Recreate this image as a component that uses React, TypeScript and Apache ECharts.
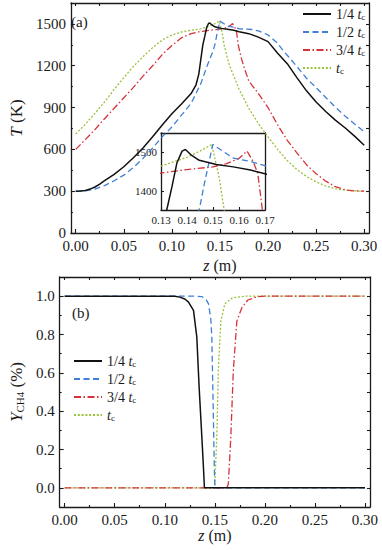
import React, { useEffect, useRef } from 'react';
import * as echarts from 'echarts';

const FONT = '"Liberation Serif", serif';
const INK = '#1a1a1a';

// ---------- Panel (a): temperature T (K) vs z (m) ----------
const Z_T14 = [0, 0.005, 0.01, 0.015, 0.02, 0.025, 0.03, 0.04, 0.05, 0.06, 0.07, 0.08, 0.09, 0.1, 0.11, 0.12, 0.125, 0.128, 0.13, 0.1322, 0.1342, 0.1361, 0.1381, 0.1394, 0.1414, 0.1447, 0.1513, 0.1578, 0.1644, 0.17, 0.18, 0.19, 0.2, 0.21, 0.22, 0.23, 0.24, 0.25, 0.26, 0.27, 0.28, 0.29, 0.3];
const T14 = [300, 301, 305, 315, 330, 350, 375, 420, 475, 540, 610, 690, 775, 855, 925, 1000, 1060, 1140, 1240, 1350, 1410, 1472, 1503, 1507, 1494, 1479, 1468, 1462, 1454, 1444, 1430, 1405, 1373, 1290, 1215, 1115, 1020, 940, 872, 810, 755, 695, 630];

const Z_T12 = [0, 0.01, 0.02, 0.03, 0.04, 0.05, 0.06, 0.07, 0.08, 0.09, 0.1, 0.11, 0.12, 0.13, 0.137, 0.1425, 0.1447, 0.1467, 0.1484, 0.1499, 0.1578, 0.1644, 0.17, 0.183, 0.19, 0.2, 0.21, 0.2165, 0.22, 0.23, 0.24, 0.25, 0.26, 0.27, 0.28, 0.29, 0.3];
const T12 = [300, 302, 315, 340, 375, 415, 470, 535, 610, 690, 760, 845, 930, 1070, 1205, 1300, 1350, 1419, 1472, 1520, 1485, 1476, 1465, 1460, 1450, 1421, 1360, 1301, 1275, 1195, 1110, 1043, 972, 903, 840, 782, 726];

const Z_T34 = [0, 0.01, 0.02, 0.03, 0.04, 0.05, 0.06, 0.07, 0.08, 0.09, 0.1, 0.11, 0.12, 0.13, 0.14, 0.15, 0.155, 0.16, 0.1631, 0.1655, 0.1672, 0.169, 0.172, 0.175, 0.18, 0.19, 0.2, 0.21, 0.22, 0.23, 0.24, 0.25, 0.26, 0.27, 0.28, 0.29, 0.3];
const T34 = [600, 670, 742, 820, 895, 970, 1045, 1125, 1200, 1280, 1345, 1400, 1430, 1446, 1455, 1462, 1470, 1484, 1503, 1475, 1446, 1350, 1260, 1190, 1090, 1000, 900, 775, 665, 575, 490, 425, 372, 332, 310, 302, 300];

const Z_TC = [0, 0.01, 0.02, 0.03, 0.04, 0.05, 0.06, 0.07, 0.08, 0.09, 0.1, 0.11, 0.12, 0.13, 0.14, 0.145, 0.1495, 0.1523, 0.1543, 0.157, 0.16, 0.17, 0.18, 0.19, 0.2, 0.21, 0.22, 0.23, 0.24, 0.25, 0.26, 0.27, 0.28, 0.29, 0.3];
const TC = [710, 780, 858, 940, 1030, 1115, 1195, 1265, 1330, 1385, 1420, 1442, 1455, 1464, 1487, 1503, 1520, 1437, 1350, 1275, 1200, 1030, 895, 785, 690, 600, 520, 455, 405, 367, 337, 318, 307, 302, 300];

// ---------- Panel (b): Y_CH4 (%) vs z (m) ----------
const Z_Y14 = [0, 0.1, 0.11, 0.115, 0.12, 0.1237, 0.1287, 0.132, 0.1343, 0.137, 0.1385, 0.1396, 0.14, 0.3];
const Y14 = [1, 1, 0.999, 0.995, 0.985, 0.969, 0.926, 0.787, 0.527, 0.268, 0.12, 0, 0, 0];

const Z_Y12 = [0, 0.13, 0.137, 0.141, 0.1437, 0.146, 0.147, 0.1483, 0.1495, 0.15, 0.151, 0.3];
const Y12 = [1, 1, 0.998, 0.985, 0.96, 0.88, 0.787, 0.44, 0.1, 0.02, 0, 0];

const Z_Y34 = [0, 0.162, 0.1635, 0.166, 0.1685, 0.172, 0.177, 0.183, 0.193, 0.2, 0.3];
const Y34 = [0, 0, 0.02, 0.268, 0.614, 0.87, 0.94, 0.98, 0.998, 1, 1];

const Z_YC = [0, 0.1495, 0.15, 0.152, 0.1535, 0.156, 0.16, 0.167, 0.18, 0.3];
const YC = [0, 0, 0.02, 0.268, 0.614, 0.87, 0.96, 0.99, 1, 1];

// ---------- ticks ----------
const X_TICKS = [0, 0.05, 0.1, 0.15, 0.2, 0.25, 0.3];
const X_MINOR = [0.025, 0.075, 0.125, 0.175, 0.225, 0.275];
const T_TICKS = [0, 300, 600, 900, 1200, 1500];
const T_MINOR = [150, 450, 750, 1050, 1350];
const INSET_X_TICKS = [0.13, 0.14, 0.15, 0.16, 0.17];
const INSET_T_TICKS = [1400, 1500];
const Y_TICKS = [0, 0.2, 0.4, 0.6, 0.8, 1.0];
const Y_MINOR = [0.1, 0.3, 0.5, 0.7, 0.9];

const NAMES = ['1/4 tc', '1/2 tc', '3/4 tc', 'tc'];
const COLORS = ['#111111', '#3f7fd6', '#d6323a', '#98c23a'];
const DASHES: any[] = ['solid', [6, 3.5], [7, 2.5, 1.5, 2.5], [2, 1.8]];

const zip = (xs: number[], ys: number[]) => xs.map((x, i) => [x, ys[i]]);

const T_DATA = [zip(Z_T14, T14), zip(Z_T12, T12), zip(Z_T34, T34), zip(Z_TC, TC)];
const Y_DATA = [zip(Z_Y14, Y14), zip(Z_Y12, Y12), zip(Z_Y34, Y34), zip(Z_YC, YC)];

function baseAxis(gridIndex: number, min: number, max: number, position: string): any {
  return {
    type: 'value',
    gridIndex,
    min,
    max,
    position,
    splitLine: { show: false },
    axisLine: { show: true, onZero: false, lineStyle: { color: INK, width: 1.3 } },
    axisTick: { show: false },
    axisLabel: { show: false },
  };
}

function withTicks(ax: any, values: number[], length: number): any {
  return {
    ...ax,
    axisTick: {
      show: true,
      inside: true,
      length,
      customValues: values,
      lineStyle: { color: INK, width: 1.1 },
    },
  };
}

function withLabels(ax: any, values: number[], digits: number, size: number, margin: number): any {
  return {
    ...ax,
    axisLabel: {
      show: true,
      customValues: values,
      formatter: (v: number) => (digits < 0 ? String(Math.round(v)) : v.toFixed(digits)),
      fontFamily: FONT,
      fontStyle: 'normal',
      fontSize: size,
      color: INK,
      margin,
    },
  };
}

const nameStyle = (size: number) => ({
  fontFamily: FONT,
  fontSize: size,
  color: INK,
  rich: {
    r: { fontFamily: FONT, fontSize: size, color: INK },
    i: { fontFamily: FONT, fontSize: size, fontStyle: 'italic', color: INK },
  },
});

const subNameStyle = (size: number) => ({
  fontFamily: FONT,
  fontSize: size,
  color: INK,
  rich: {
    r: { fontFamily: FONT, fontSize: size, color: INK },
    i: { fontFamily: FONT, fontSize: size, fontStyle: 'italic', color: INK },
    s: { fontFamily: FONT, fontSize: 11, color: INK, verticalAlign: 'bottom' },
  },
});

const legendFormatter = (name: string) => {
  const pre = name.replace('tc', '');
  return (pre ? '{r|' + pre + '}' : '') + '{i|t}{s|c}';
};

function buildOption(): any {
  const xAxis: any[] = [];
  const yAxis: any[] = [];

  // grid 0 (panel a)
  xAxis.push({
    ...withLabels(withTicks(baseAxis(0, -0.005, 0.305, 'bottom'), X_TICKS, 4), X_TICKS, 2, 15, 5),
    name: '{i|z}{r| (m)}',
    nameLocation: 'middle',
    nameGap: 24,
    nameTextStyle: nameStyle(16),
  }); // 0
  xAxis.push({ ...withTicks(baseAxis(0, -0.005, 0.305, 'bottom'), X_MINOR, 2), axisLine: { show: false, onZero: false } }); // 1
  xAxis.push(withTicks(baseAxis(0, -0.005, 0.305, 'top'), [...X_TICKS, ...X_MINOR], 3)); // 2
  // grid 1 (inset)
  xAxis.push(withLabels(withTicks(baseAxis(1, 0.13, 0.17, 'bottom'), INSET_X_TICKS, 3), INSET_X_TICKS, 2, 11, 4)); // 3
  xAxis.push(baseAxis(1, 0.13, 0.17, 'top')); // 4
  // grid 2 (panel b)
  xAxis.push({
    ...withLabels(withTicks(baseAxis(2, -0.005, 0.305, 'bottom'), X_TICKS, 4), X_TICKS, 2, 15, 5),
    name: '{i|z}{r| (m)}',
    nameLocation: 'middle',
    nameGap: 20,
    nameTextStyle: nameStyle(16),
  }); // 5
  xAxis.push({ ...withTicks(baseAxis(2, -0.005, 0.305, 'bottom'), X_MINOR, 2), axisLine: { show: false, onZero: false } }); // 6
  xAxis.push(withTicks(baseAxis(2, -0.005, 0.305, 'top'), [...X_TICKS, ...X_MINOR], 3)); // 7

  yAxis.push({
    ...withLabels(withTicks(baseAxis(0, 0, 1650, 'left'), T_TICKS, 4), T_TICKS, -1, 15, 5),
    name: '{i|T}{r| (K)}',
    nameLocation: 'middle',
    nameGap: 37,
    nameTextStyle: nameStyle(17),
  }); // 0
  yAxis.push({ ...withTicks(baseAxis(0, 0, 1650, 'left'), T_MINOR, 2), axisLine: { show: false, onZero: false } }); // 1
  yAxis.push(withTicks(baseAxis(0, 0, 1650, 'right'), [...T_TICKS, ...T_MINOR], 3)); // 2
  yAxis.push(withLabels(withTicks(baseAxis(1, 1350, 1550, 'left'), INSET_T_TICKS, 3), INSET_T_TICKS, -1, 11, 4)); // 3
  yAxis.push(baseAxis(1, 1350, 1550, 'right')); // 4
  yAxis.push({
    ...withLabels(withTicks(baseAxis(2, -0.1, 1.1, 'left'), Y_TICKS, 4), Y_TICKS, 1, 15, 5),
    name: '{i|Y}{s|CH4}{r| (%)}',
    nameLocation: 'middle',
    nameGap: 33,
    nameTextStyle: subNameStyle(17),
  }); // 5
  yAxis.push({ ...withTicks(baseAxis(2, -0.1, 1.1, 'left'), Y_MINOR, 2), axisLine: { show: false, onZero: false } }); // 6
  yAxis.push(withTicks(baseAxis(2, -0.1, 1.1, 'right'), [...Y_TICKS, ...Y_MINOR], 3)); // 7

  const series: any[] = [];
  const mk = (i: number, data: number[][], xi: number, yi: number) => ({
    type: 'line',
    name: NAMES[i],
    data,
    xAxisIndex: xi,
    yAxisIndex: yi,
    symbol: 'none',
    showSymbol: false,
    clip: true,
    z: 10 - i,
    lineStyle: { color: COLORS[i], width: i === 0 ? 1.5 : 1.3, type: DASHES[i] },
    itemStyle: { color: COLORS[i] },
  });
  for (let i = 0; i < 4; i++) series.push(mk(i, T_DATA[i], 0, 0));
  for (let i = 0; i < 4; i++) series.push(mk(i, T_DATA[i], 3, 3));
  for (let i = 0; i < 4; i++) series.push(mk(i, Y_DATA[i], 5, 5));

  const legendText = {
    fontFamily: FONT,
    fontSize: 14,
    color: INK,
    rich: {
      r: { fontFamily: FONT, fontSize: 14, color: INK },
      i: { fontFamily: FONT, fontSize: 14, fontStyle: 'italic', color: INK },
      s: { fontFamily: FONT, fontSize: 9, color: INK, verticalAlign: 'bottom' },
    },
  };
  const legendBase = {
    orient: 'vertical',
    data: NAMES,
    itemWidth: 28,
    itemHeight: 14,
    itemGap: 4,
    formatter: legendFormatter,
    textStyle: legendText,
    itemStyle: { color: 'rgba(0,0,0,0)', borderWidth: 0, opacity: 0 },
    selectedMode: false,
    padding: 0,
  };

  return {
    animation: false,
    backgroundColor: '#ffffff',
    textStyle: { fontFamily: FONT },
    grid: [
      { left: 57, top: 3, right: 13, height: 230, containLabel: false },
      { left: 161, top: 133, width: 104, height: 77, containLabel: false, z: 5 },
      { left: 57, top: 277, right: 12, height: 230, containLabel: false },
    ],
    xAxis,
    yAxis,
    series,
    legend: [
      { ...legendBase, left: 302, top: 7 },
      { ...legendBase, left: 73, top: 354 },
    ],
    graphic: [
      { type: 'text', left: 71, top: 14, style: { text: '(a)', font: '15px ' + FONT, fill: INK } },
      { type: 'text', left: 72, top: 305, style: { text: '(b)', font: '15px ' + FONT, fill: INK } },
    ],
  };
}

export default function App() {
  const ref = useRef<HTMLDivElement>(null);
  useEffect(() => {
    if (!ref.current) return;
    const chart = echarts.init(ref.current, undefined, { renderer: 'svg' });
    chart.setOption(buildOption());
    return () => chart.dispose();
  }, []);
  return (
    <div
      ref={ref}
      style={{ position: 'absolute', left: 0, top: 0, width: 382, height: 550, background: '#fff' }}
    />
  );
}
